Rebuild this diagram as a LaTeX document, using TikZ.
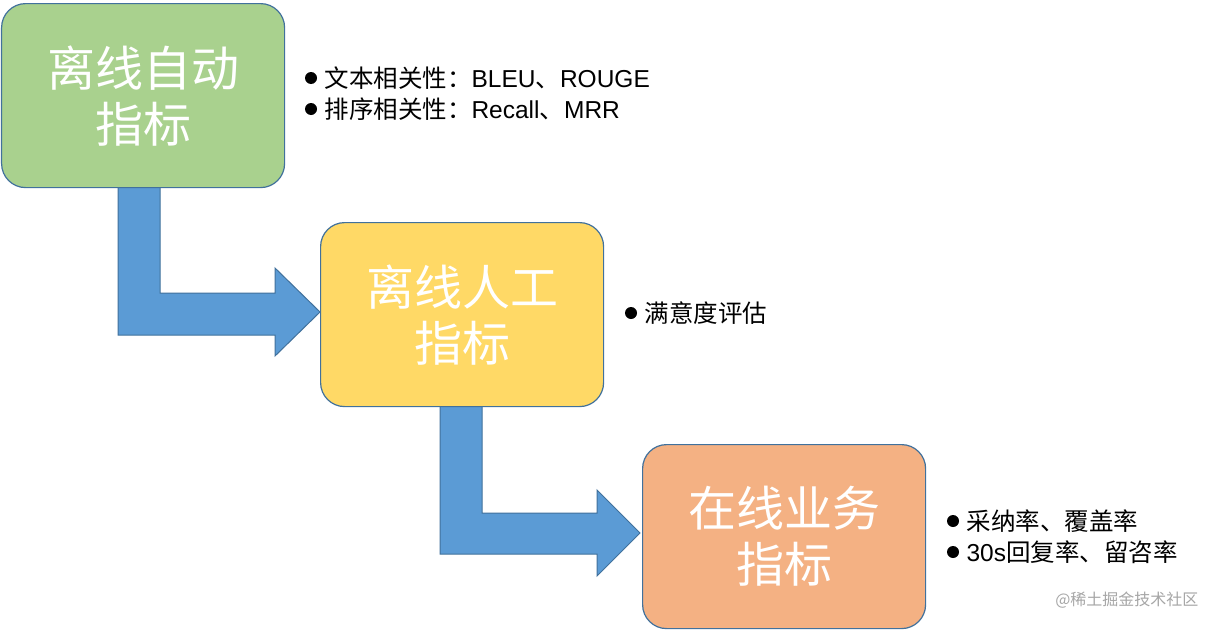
\documentclass[tikz,border=0pt]{standalone}
\usepackage{fontspec}
\setmainfont{Noto Sans CJK SC}
\newfontfamily\latf{Liberation Sans}
\begin{document}
\begin{tikzpicture}[x=1pt,y=-1pt,
  box/.style={draw=bordc,line width=1.2pt,rounded corners=24pt,minimum width=283pt,minimum height=184pt,anchor=north west,text=white,font=\fontsize{48}{56}\selectfont,align=center},
  arr/.style={draw=bordc,fill=arrc,line width=1pt},
  bl/.style={anchor=west,font=\fontsize{24.5}{28}\selectfont,text=black},
  dot/.style={circle,fill=black,inner sep=0pt,minimum size=12pt}]
\definecolor{bordc}{HTML}{41719C}
\definecolor{arrc}{HTML}{5B9BD5}
\definecolor{gr}{HTML}{A9D18E}
\definecolor{ye}{HTML}{FFD966}
\definecolor{or}{HTML}{F4B183}
\useasboundingbox (0,0) rectangle (1220,629);
\fill[white] (0,0) rectangle (1220,629);
\draw[arr] (118,187)--(160,187)--(160,293)--(275,293)--(275,268)--(320,312)--(275,356)--(275,335)--(118,335)--cycle;
\draw[arr] (440,406)--(482,406)--(482,513)--(597,513)--(597,490)--(640,533)--(597,576)--(597,554)--(440,554)--cycle;
\node[box,fill=gr] (b1) at (1,3) {离线自动\\指标};
\node[box,fill=ye] (b2) at (320,222) {离线人工\\指标};
\node[box,fill=or] (b3) at (642,444) {在线业务\\指标};
\node[dot] (d1) at (311,78) {}; \node[bl] (t1) at (321,78) {文本相关性：{\latf BLEU}、{\latf ROUGE}};
\node[dot] (d2) at (311,109) {}; \node[bl] (t2) at (321,109) {排序相关性：{\latf Recall}、{\latf MRR}};
\node[dot] (d3) at (631,313) {}; \node[bl] (t3) at (641,313) {满意度评估};
\node[dot] (d4) at (953,521) {}; \node[bl] (t4) at (963,521) {采纳率、覆盖率};
\node[dot] (d5) at (953,552) {}; \node[bl] (t5) at (963,552) {{\latf 30s}回复率、留咨率};
\node[anchor=east,text=gray!70,font=\fontsize{16}{18}\selectfont] (wm) at (1202,600) {@稀土掘金技术社区};
\end{tikzpicture}
\end{document}
